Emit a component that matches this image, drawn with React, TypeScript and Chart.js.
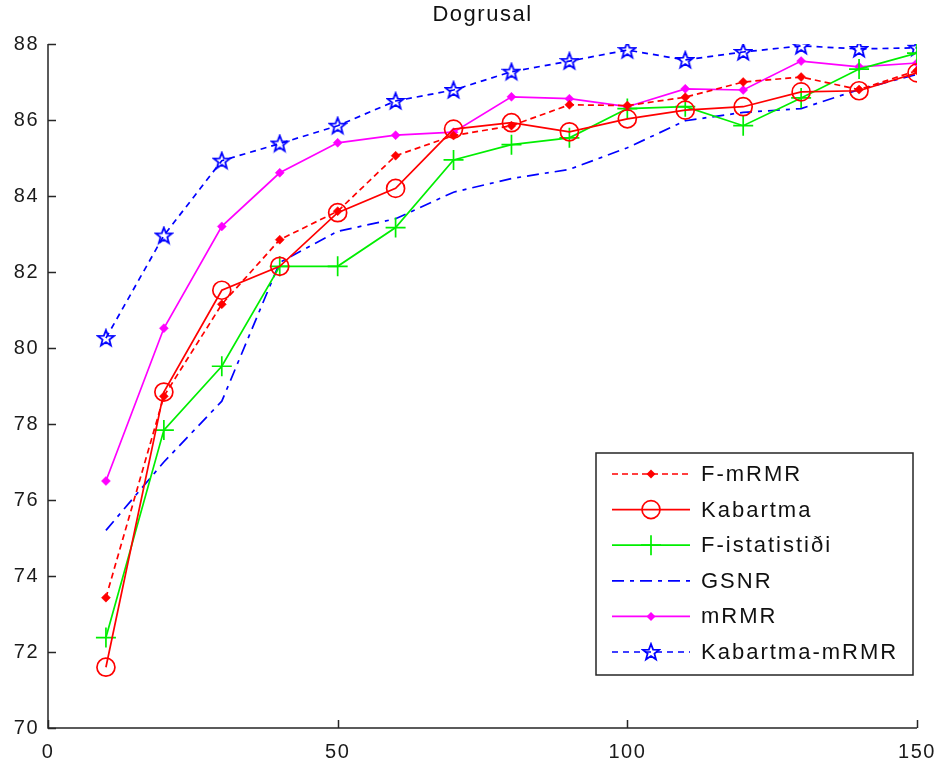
import React, { useEffect, useRef } from 'react';
import { Chart, registerables } from 'chart.js';

Chart.register(...registerables);

const titleText = 'Dogrusal';
const xValues = [10, 20, 30, 40, 50, 60, 70, 80, 90, 100, 110, 120, 130, 140, 150];
const xTicks = [0, 50, 100, 150];
const yTicks = [70, 72, 74, 76, 78, 80, 82, 84, 86, 88];

const seriesNames = ['F-mRMR', 'Kabartma', 'F-istatistiði', 'GSNR', 'mRMR', 'Kabartma-mRMR'];
const fMrmr = [73.43, 78.73, 81.15, 82.85, 83.6, 85.06, 85.59, 85.85, 86.4, 86.38, 86.6, 87.0, 87.13, 86.8, 87.3];
const kabartma = [71.6, 78.84, 81.52, 82.15, 83.56, 84.2, 85.76, 85.93, 85.69, 86.03, 86.26, 86.35, 86.74, 86.77, 87.24];
const fStat = [72.38, 77.84, 79.52, 82.15, 82.15, 83.17, 84.95, 85.35, 85.53, 86.3, 86.35, 85.85, 86.58, 87.34, 87.76];
const gsnr = [75.2, 77.0, 78.6, 82.25, 83.07, 83.4, 84.1, 84.46, 84.7, 85.27, 85.98, 86.2, 86.3, 86.8, 87.2];
const mrmr = [76.5, 80.52, 83.2, 84.61, 85.4, 85.6, 85.68, 86.61, 86.56, 86.35, 86.82, 86.79, 87.55, 87.4, 87.5];
const kabMrmr = [80.26, 82.96, 84.93, 85.38, 85.85, 86.5, 86.79, 87.27, 87.55, 87.84, 87.58, 87.79, 87.95, 87.87, 87.9];

const FONT = '"Liberation Sans", Arial, sans-serif';

function makeStar(color: string): HTMLCanvasElement {
  const c = document.createElement('canvas');
  c.width = 20;
  c.height = 20;
  const ctx = c.getContext('2d')!;
  ctx.strokeStyle = color;
  ctx.lineWidth = 1.8;
  ctx.beginPath();
  const cx = 10, cy = 10.5, R = 8.5, r = 3.6;
  for (let i = 0; i < 10; i++) {
    const a = -Math.PI / 2 + (i * Math.PI) / 5;
    const rad = i % 2 === 0 ? R : r;
    const px = cx + rad * Math.cos(a);
    const py = cy + rad * Math.sin(a);
    if (i === 0) ctx.moveTo(px, py);
    else ctx.lineTo(px, py);
  }
  ctx.closePath();
  ctx.stroke();
  return c;
}

function drawMarker(ctx: CanvasRenderingContext2D, ds: any, x: number, y: number) {
  const style = ds.pointStyle;
  const r = ds.pointRadius;
  ctx.save();
  ctx.setLineDash([]);
  ctx.lineWidth = ds.pointBorderWidth;
  ctx.strokeStyle = ds.pointBorderColor;
  ctx.fillStyle = ds.pointBackgroundColor;
  if (style instanceof HTMLCanvasElement) {
    ctx.drawImage(style, x - style.width / 2, y - style.height / 2);
  } else if (style === 'rectRot') {
    ctx.beginPath();
    ctx.moveTo(x, y - r);
    ctx.lineTo(x + r, y);
    ctx.lineTo(x, y + r);
    ctx.lineTo(x - r, y);
    ctx.closePath();
    ctx.fill();
  } else if (style === 'circle') {
    ctx.beginPath();
    ctx.arc(x, y, r, 0, Math.PI * 2);
    ctx.stroke();
  } else if (style === 'cross') {
    ctx.beginPath();
    ctx.moveTo(x - r, y);
    ctx.lineTo(x + r, y);
    ctx.moveTo(x, y - r);
    ctx.lineTo(x, y + r);
    ctx.stroke();
  }
  ctx.restore();
}

const decorPlugin = {
  id: 'decor',
  beforeDraw(chart: any) {
    const ctx = chart.ctx;
    ctx.save();
    ctx.fillStyle = '#ffffff';
    ctx.fillRect(0, 0, chart.width, chart.height);
    ctx.restore();
    (ctx as any).letterSpacing = '1.5px';
  },
  afterDraw(chart: any) {
    const ctx: CanvasRenderingContext2D = chart.ctx;
    const { left, right, top, bottom } = chart.chartArea;
    const xs = chart.scales.x;
    const ys = chart.scales.y;
    ctx.save();
    ctx.strokeStyle = '#262626';
    ctx.lineWidth = 1.5;
    ctx.setLineDash([]);
    ctx.beginPath();
    ctx.moveTo(left, top);
    ctx.lineTo(left, bottom);
    ctx.lineTo(right, bottom);
    ctx.stroke();
    ctx.beginPath();
    yTicks.forEach((v) => {
      const py = Math.round(ys.getPixelForValue(v)) + 0.5;
      ctx.moveTo(left, py);
      ctx.lineTo(left + 8, py);
    });
    xTicks.forEach((v) => {
      const px = Math.round(xs.getPixelForValue(v)) + 0.5;
      ctx.moveTo(px, bottom);
      ctx.lineTo(px, bottom - 8);
    });
    ctx.stroke();

    // title
    (ctx as any).letterSpacing = '1.5px';
    ctx.fillStyle = '#111';
    ctx.font = `22px ${FONT}`;
    ctx.textAlign = 'center';
    ctx.textBaseline = 'middle';
    ctx.fillText(titleText, (left + right) / 2, 15);

    // legend
    const bx = right - 321, by = 453, bw = 317, bh = 222;
    ctx.fillStyle = '#fff';
    ctx.fillRect(bx, by, bw, bh);
    ctx.strokeStyle = '#262626';
    ctx.lineWidth = 1.5;
    ctx.strokeRect(bx, by, bw, bh);
    const datasets = chart.data.datasets;
    datasets.forEach((ds: any, i: number) => {
      const ly = by + 21 + i * 35.6;
      ctx.save();
      ctx.strokeStyle = ds.borderColor;
      ctx.lineWidth = ds.borderWidth;
      ctx.setLineDash(ds.borderDash || []);
      ctx.beginPath();
      ctx.moveTo(bx + 16, ly);
      ctx.lineTo(bx + 94, ly);
      ctx.stroke();
      ctx.restore();
      if (ds.pointRadius > 0) drawMarker(ctx, ds, bx + 55, ly);
      ctx.fillStyle = '#111';
      ctx.font = `22px ${FONT}`;
      (ctx as any).letterSpacing = '2px';
      ctx.textAlign = 'left';
      ctx.textBaseline = 'middle';
      ctx.fillText(ds.label, bx + 105, ly + 1);
    });
    (ctx as any).letterSpacing = '0px';
    ctx.restore();
  },
};

export default function App() {
  const canvasRef = useRef<HTMLCanvasElement | null>(null);

  useEffect(() => {
    const canvas = canvasRef.current;
    if (!canvas) return;
    const star = makeStar('#0000ff');
    const toPts = (arr: number[]) => arr.map((v, i) => ({ x: xValues[i], y: v }));
    const base = { fill: false, tension: 0, borderWidth: 1.7, pointBorderWidth: 1.7, pointHoverRadius: 0 };
    const chart = new Chart(canvas, {
      type: 'line',
      data: {
        datasets: [
          {
            ...base, label: seriesNames[0], data: toPts(fMrmr), borderColor: '#ff0000', borderDash: [6, 4],
            pointStyle: 'rectRot', pointRadius: 4.5, pointBackgroundColor: '#ff0000', pointBorderColor: '#ff0000', pointBorderWidth: 0.5,
          },
          {
            ...base, label: seriesNames[1], data: toPts(kabartma), borderColor: '#ff0000',
            pointStyle: 'circle', pointRadius: 9, pointBackgroundColor: 'rgba(0,0,0,0)', pointBorderColor: '#ff0000',
          },
          {
            ...base, label: seriesNames[2], data: toPts(fStat), borderColor: '#00ee00',
            pointStyle: 'cross', pointRadius: 10, pointBackgroundColor: '#00ee00', pointBorderColor: '#00ee00',
          },
          {
            ...base, label: seriesNames[3], data: toPts(gsnr), borderColor: '#0000ff', borderDash: [12, 6, 4, 6],
            pointRadius: 0, pointStyle: 'circle', pointBackgroundColor: '#0000ff', pointBorderColor: '#0000ff',
          },
          {
            ...base, label: seriesNames[4], data: toPts(mrmr), borderColor: '#ff00ff',
            pointStyle: 'rectRot', pointRadius: 4.5, pointBackgroundColor: '#ff00ff', pointBorderColor: '#ff00ff', pointBorderWidth: 0.5,
          },
          {
            ...base, label: seriesNames[5], data: toPts(kabMrmr), borderColor: '#0000ff', borderDash: [6, 5],
            pointStyle: star as any, pointRadius: 8, pointBackgroundColor: '#0000ff', pointBorderColor: '#0000ff',
          },
        ] as any,
      },
      options: {
        animation: false,
        responsive: true,
        maintainAspectRatio: false,
        layout: { padding: { top: 44, right: 25, left: 0, bottom: 0 } },
        plugins: {
          legend: { display: false },
          title: { display: false },
          tooltip: { enabled: false },
        },
        scales: {
          x: {
            type: 'linear',
            min: 0,
            max: 150,
            grid: { display: false, drawTicks: false },
            border: { display: false },
            afterBuildTicks: (scale: any) => {
              scale.ticks = xTicks.map((v) => ({ value: v }));
            },
            afterFit: (scale: any) => {
              scale.height = 41;
              scale.paddingLeft = 0;
              scale.paddingRight = 0;
            },
            ticks: {
              padding: 12,
              color: '#1a1a1a',
              font: { family: FONT, size: 20 },
              maxRotation: 0,
              autoSkip: false,
            },
          },
          y: {
            type: 'linear',
            min: 70,
            max: 88,
            grid: { display: false, drawTicks: false },
            border: { display: false },
            afterBuildTicks: (scale: any) => {
              scale.ticks = yTicks.map((v) => ({ value: v }));
            },
            afterFit: (scale: any) => {
              scale.width = 48;
              scale.paddingTop = 0;
              scale.paddingBottom = 0;
            },
            ticks: {
              padding: 9,
              color: '#1a1a1a',
              font: { family: FONT, size: 20 },
              autoSkip: false,
            },
          },
        },
      } as any,
      plugins: [decorPlugin],
    });
    return () => chart.destroy();
  }, []);

  return (
    <div style={{ position: 'absolute', left: 0, top: 0, width: 942, height: 769, background: '#fff' }}>
      <canvas ref={canvasRef} />
    </div>
  );
}
